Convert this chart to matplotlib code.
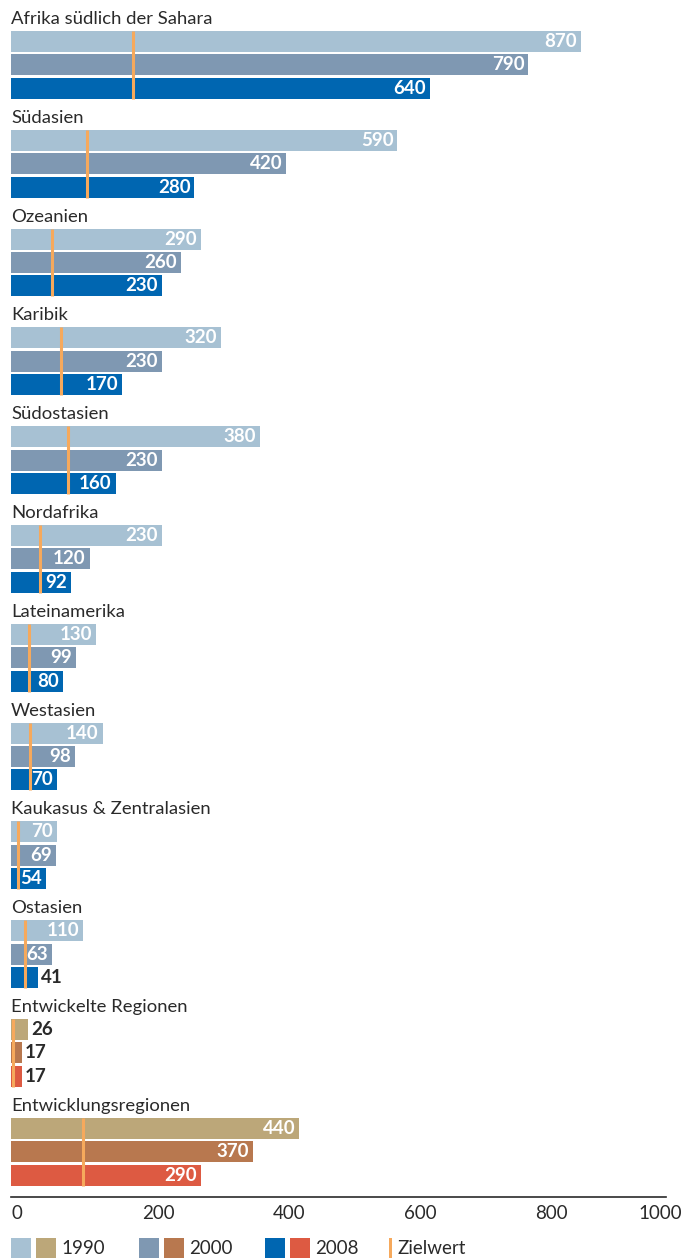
import numpy as np
import matplotlib
matplotlib.use("Agg")
from matplotlib import pyplot as plt
from matplotlib.patches import Rectangle
from matplotlib.transforms import ScaledTranslation

regions = ["Afrika südlich der Sahara", "Südasien", "Ozeanien", "Karibik",
           "Südostasien", "Nordafrika", "Lateinamerika", "Westasien",
           "Kaukasus & Zentralasien", "Ostasien", "Entwickelte Regionen",
           "Entwicklungsregionen"]
v1990 = [870, 590, 290, 320, 380, 230, 130, 140, 70, 110, 26, 440]
v2000 = [790, 420, 260, 230, 230, 120, 99, 98, 69, 63, 17, 370]
v2008 = [640, 280, 230, 170, 160, 92, 80, 70, 54, 41, 17, 290]
zielwert = [186, 116, 63, 76, 87, 44, 27, 29, 10, 21, 3, 110]
aggregate = [False] * 10 + [True] * 2
years = ["1990", "2000", "2008"]
ticks = [0, 200, 400, 600, 800, 1000]

cool = ["#a7c1d3", "#7f98b2", "#0066b1"]
warm = ["#bca779", "#b8784f", "#dd5a42"]
orange = "#f6a95c"
dark = "#2a2a2a"

plt.rcParams["font.family"] = ["Lato", "DejaVu Sans"]

W, H = 688, 1258
fig = plt.figure(figsize=(W / 100, H / 100), dpi=100)

# axes in pixel units vertically: top of figure = 0, x axis line at 1197
axis_y = 1197
left, right = 11, 666
ax = fig.add_axes([left / W, (H - axis_y) / H, (right - left) / W, axis_y / H])
ax.set_xlim(0, 1000)
ax.set_ylim(axis_y, 0)

first = 41.5
pitch = 98.8
step = 23.4
bar_h = 21
px_per_unit = (right - left) / 1000

for i, name in enumerate(regions):
    c0 = first + i * pitch
    cols = warm if aggregate[i] else cool
    vals = [v1990[i], v2000[i], v2008[i]]
    for j, v in enumerate(vals):
        yc = c0 + j * step
        ax.barh(yc, v, height=bar_h, color=cols[j], linewidth=0)
        if v < 50:
            ax.text(v + 3 / px_per_unit, yc, str(v), ha="left", va="center",
                    color=dark, fontsize=13.5, fontweight="bold")
        else:
            ax.text(v - 4 / px_per_unit, yc, str(v), ha="right", va="center",
                    color="white", fontsize=13.5, fontweight="bold")
    ax.plot([zielwert[i], zielwert[i]],
            [c0 - bar_h / 2, c0 + 2 * step + bar_h / 2],
            color=orange, lw=2.2, solid_capstyle="butt")
    ax.text(0, c0 - 17.5, name, ha="left", va="baseline",
            color=dark, fontsize=13.3)

for s in ["top", "right", "left"]:
    ax.spines[s].set_visible(False)
ax.spines["bottom"].set_color(dark)
ax.spines["bottom"].set_linewidth(1.2)
ax.set_yticks([])
ax.set_xticks(ticks)
ax.set_xticklabels([str(t) for t in ticks], fontsize=13.5, color=dark)
ax.tick_params(axis="x", length=0, pad=6)
labs = ax.get_xticklabels()
for lab in labs[:-1]:
    lab.set_ha("left")
labs[-1].set_ha("center")
labs[-1].set_transform(labs[-1].get_transform()
                       + ScaledTranslation(-0.06, 0, fig.dpi_scale_trans))

# legend along the bottom edge
def fx(x):
    return x / W

def fy(y):
    return 1 - y / H

leg_y = 1248
sq = 20
groups_x = [11, 139, 265]
for k, year in enumerate(years):
    x0 = groups_x[k]
    fig.patches.append(Rectangle((fx(x0), fy(leg_y + sq / 2)), sq / W, sq / H,
                                 transform=fig.transFigure, color=cool[k], lw=0))
    fig.patches.append(Rectangle((fx(x0 + 25), fy(leg_y + sq / 2)), sq / W, sq / H,
                                 transform=fig.transFigure, color=warm[k], lw=0))
    fig.text(fx(x0 + 50), fy(leg_y), year, ha="left", va="center",
             fontsize=13.5, color=dark)
fig.patches.append(Rectangle((fx(389), fy(leg_y + sq / 2)), 3 / W, sq / H,
                             transform=fig.transFigure, color=orange, lw=0))
fig.text(fx(397), fy(leg_y), "Zielwert", ha="left", va="center",
         fontsize=13.5, color=dark)

fig.savefig("out.png", dpi=100)
